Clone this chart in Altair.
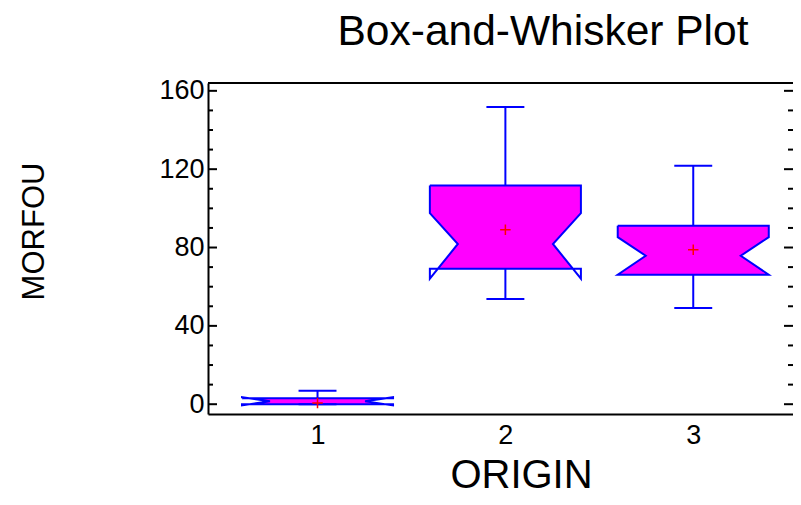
import altair as alt
import pandas as pd

# ---- data ----
origin = [1, 2, 3]
lower_whisker = [0.0, 53.7, 49.1]
q1 = [0.0, 69.2, 66.1]
median = [1.5, 81.8, 75.8]
q3 = [3.0, 111.7, 91.1]
upper_whisker = [6.9, 151.7, 121.7]
notch_lo = [-0.6, 64.1, 66.1]
notch_hi = [3.6, 97.6, 85.3]
mean = [0.6, 89.1, 78.9]

y_label_values = [0, 40, 80, 120, 160]
y_minor_values = [10, 20, 30, 50, 60, 70, 90, 100, 110, 130, 140, 150]
x_label_values = [1, 2, 3]

# ---- style ----
BOX_HW = 0.402
WAIST_HW = 0.253
CAP_HW = 0.101
W, H = 585, 331
FONT = "Liberation Sans"
BLUE = "#0000FF"
MAGENTA = "#FF00FF"


def clamp_pt(xc, side, med, n, lim):
    # point where the notch diagonal meets the box edge line (for the fill)
    if (n - med) == 0 or abs(n - med) <= abs(lim - med):
        return xc + side * BOX_HW, n
    t = (lim - med) / (n - med)
    return xc + side * (WAIST_HW + t * (BOX_HW - WAIST_HW)), lim


outline_rows, fill_rows = [], []
for i, xc in enumerate(origin):
    pts = [
        (xc - BOX_HW, q3[i]), (xc + BOX_HW, q3[i]),
        (xc + BOX_HW, notch_hi[i]), (xc + WAIST_HW, median[i]),
        (xc + BOX_HW, notch_lo[i]), (xc + BOX_HW, q1[i]),
        (xc - BOX_HW, q1[i]), (xc - BOX_HW, notch_lo[i]),
        (xc - WAIST_HW, median[i]), (xc - BOX_HW, notch_hi[i]),
        (xc - BOX_HW, q3[i]),
    ]
    for k, (px, py) in enumerate(pts):
        outline_rows.append({"box": xc, "k": k, "x": px, "y": py})
    fpts = [
        (xc - BOX_HW, q3[i]), (xc + BOX_HW, q3[i]),
        clamp_pt(xc, 1, median[i], notch_hi[i], q3[i]), (xc + WAIST_HW, median[i]),
        clamp_pt(xc, 1, median[i], notch_lo[i], q1[i]), (xc + BOX_HW, q1[i]),
        (xc - BOX_HW, q1[i]), clamp_pt(xc, -1, median[i], notch_lo[i], q1[i]),
        (xc - WAIST_HW, median[i]), clamp_pt(xc, -1, median[i], notch_hi[i], q3[i]),
    ]
    for k, (px, py) in enumerate(fpts):
        fill_rows.append({"box": xc, "k": k, "x": px, "y": py})

outline_df = pd.DataFrame(outline_rows)
fill_df = pd.DataFrame(fill_rows)
stats_df = pd.DataFrame({
    "origin": origin, "lw": lower_whisker, "q1": q1, "med": median,
    "q3": q3, "uw": upper_whisker, "mean": mean,
    "cl": [o - CAP_HW for o in origin], "cr": [o + CAP_HW for o in origin],
})
major_df = pd.DataFrame({"v": y_label_values})
minor_df = pd.DataFrame({"v": y_minor_values})

xscale = alt.Scale(domain=[0.417, 3.531], nice=False, zero=False)
yscale = alt.Scale(domain=[-5, 164], nice=False, zero=False)

xaxis = alt.Axis(values=x_label_values, format="d", ticks=False, grid=False,
                 domain=True, domainColor="black", domainWidth=2,
                 labelFontSize=27, labelPadding=8, labelColor="black",
                 title="ORIGIN", titleFontSize=40, titleFontWeight="normal",
                 titleColor="black", titleX=313, titleY=61,
                 titleBaseline="middle", titleAlign="center")
yaxis = alt.Axis(values=y_label_values, ticks=False, grid=False,
                 domain=True, domainColor="black", domainWidth=2,
                 labelFontSize=27, labelPadding=4, labelColor="black",
                 title="MORFOU", titleFontSize=31,
                 titleFontWeight="normal",
                 titleColor="black", titleAngle=270, titleX=-174, titleY=148,
                 titleBaseline="middle", titleAlign="center")

fill = alt.Chart(fill_df).mark_line(fill=MAGENTA, stroke=None, strokeWidth=0).encode(
    x=alt.X("x:Q", scale=xscale, axis=xaxis),
    y=alt.Y("y:Q", scale=yscale, axis=yaxis),
    order="k:Q", detail="box:N")

outline = alt.Chart(outline_df).mark_line(color=BLUE, strokeWidth=2).encode(
    x=alt.X("x:Q", scale=xscale, axis=xaxis),
    y=alt.Y("y:Q", scale=yscale, axis=yaxis),
    order="k:Q", detail="box:N")

base = alt.Chart(stats_df)
whisk_up = base.mark_rule(color=BLUE, strokeWidth=2).encode(
    x=alt.X("origin:Q", scale=xscale, axis=xaxis),
    y=alt.Y("q3:Q", scale=yscale, axis=yaxis), y2="uw:Q")
whisk_lo = base.mark_rule(color=BLUE, strokeWidth=2).encode(
    x=alt.X("origin:Q", scale=xscale, axis=xaxis),
    y=alt.Y("q1:Q", scale=yscale, axis=yaxis), y2="lw:Q")
cap_up = base.mark_rule(color=BLUE, strokeWidth=2).encode(
    x=alt.X("cl:Q", scale=xscale, axis=xaxis), x2="cr:Q",
    y=alt.Y("uw:Q", scale=yscale, axis=yaxis))
cap_lo = base.mark_rule(color=BLUE, strokeWidth=2).encode(
    x=alt.X("cl:Q", scale=xscale, axis=xaxis), x2="cr:Q",
    y=alt.Y("lw:Q", scale=yscale, axis=yaxis))
mean_pt = base.mark_point(shape="M -1 0 L 1 0 M 0 -1 L 0 1", color="red",
                          strokeWidth=1.5, size=110, filled=False, opacity=1).encode(
    x=alt.X("origin:Q", scale=xscale, axis=xaxis),
    y=alt.Y("mean:Q", scale=yscale, axis=yaxis))

tick_major_l = alt.Chart(major_df).mark_rule(color="black", strokeWidth=2).encode(
    y=alt.Y("v:Q", scale=yscale, axis=yaxis), x=alt.value(0), x2=alt.value(9))
tick_minor_l = alt.Chart(minor_df).mark_rule(color="black", strokeWidth=2).encode(
    y=alt.Y("v:Q", scale=yscale, axis=yaxis), x=alt.value(0), x2=alt.value(5))
tick_major_r = alt.Chart(major_df).mark_rule(color="black", strokeWidth=2).encode(
    y=alt.Y("v:Q", scale=yscale, axis=yaxis), x=alt.value(W - 9), x2=alt.value(W))
tick_minor_r = alt.Chart(minor_df).mark_rule(color="black", strokeWidth=2).encode(
    y=alt.Y("v:Q", scale=yscale, axis=yaxis), x=alt.value(W - 5), x2=alt.value(W))
top_line = alt.Chart(major_df).mark_rule(color="black", strokeWidth=2).encode(
    x=alt.value(0), x2=alt.value(W), y=alt.value(0))

chart = alt.layer(
    fill, outline, whisk_up, whisk_lo, cap_up, cap_lo, mean_pt,
    tick_major_l, tick_minor_l, tick_major_r, tick_minor_r, top_line,
).properties(
    width=W, height=H,
    title=alt.TitleParams("Box-and-Whisker Plot", fontSize=42.5, font=FONT,
                          fontWeight="normal", color="black", anchor="middle",
                          dx=42.5, offset=23),
    autosize=alt.AutoSizeParams(type="none"),
    padding={"left": 200, "top": 75, "right": 0, "bottom": 82},
).configure_view(stroke=None).configure_axis(
    labelFont=FONT, titleFont=FONT
)

chart.save("out.html", embed_options={"renderer": "svg", "actions": False})
